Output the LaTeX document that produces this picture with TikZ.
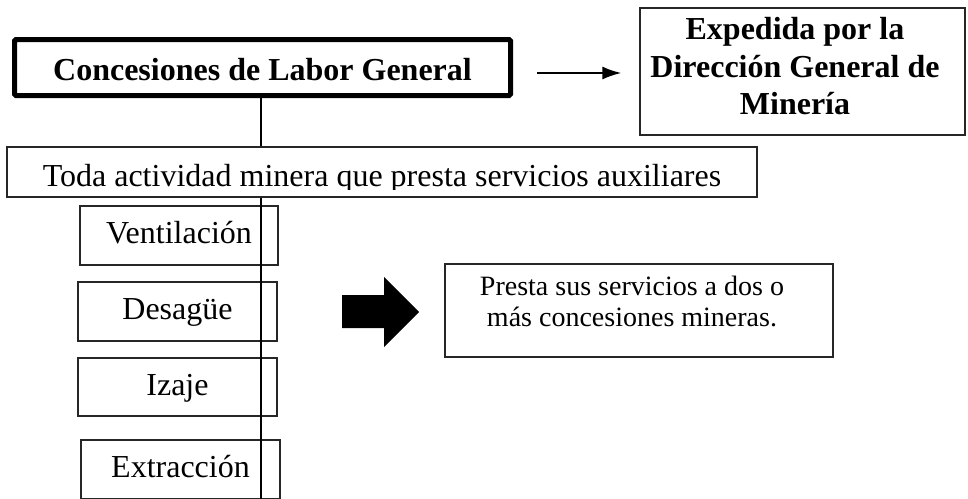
\documentclass[tikz,border=0pt]{standalone}
\usepackage{fontspec}
\setmainfont{Liberation Serif}
\usetikzlibrary{arrows.meta}
\begin{document}
\begin{tikzpicture}[x=1pt,y=-1pt,
  bigfont/.style={font=\fontsize{32}{37.5}\selectfont},
  thinbox/.style={draw=black!85, line width=1.2pt, inner sep=0pt},
  subbox/.style={thinbox, bigfont, text height=22pt, text depth=6pt},
  conn/.style={line width=2pt, black}
]
\useasboundingbox (0,0) rectangle (968,498);

% main box
\node[draw, line width=5pt, rounded corners=1.5pt, inner sep=0pt,
      minimum width=496pt, minimum height=56pt,
      text height=30pt, text depth=5pt,
      font=\fontsize{32}{37.5}\selectfont\bfseries]
      (main) at (262.5,67.5) {Concesiones de Labor General};

% Expedida box
\node[thinbox, minimum width=325pt, minimum height=127pt] (exp) at (802.5,71.5) {};
\node[align=center, inner sep=0pt, font=\fontsize{32}{37.5}\selectfont\bfseries]
      (exptext) at (795,66.5) {Expedida por la\\Dirección General de\\Minería};

\coordinate (ay) at (0,73);
\draw[line width=2pt, -{Latex[length=19pt,width=13pt]}, shorten <=24pt, shorten >=18pt]
  (main.east |- ay) -- (exp.west |- ay);

% sub boxes
\node[subbox, minimum width=198pt, minimum height=59pt] (vent) at (179,235.5) {Ventilación};
\node[subbox, minimum width=199pt, minimum height=59pt] (des) at (177.5,311.5) {Desagüe};
\node[subbox, minimum width=199pt, minimum height=58pt] (iza) at (177.5,387) {Izaje};
\node[subbox, minimum width=199pt, minimum height=59pt] (ext) at (180.5,469.5) {Extracción};

% Toda box
\node[thinbox, fill=white, minimum width=750pt, minimum height=50pt] (toda) at (382,172) {};
\begin{scope}
  \clip (7,147) rectangle (757,189.5);
  \node[anchor=base, inner sep=0pt, bigfont] (todatext) at (382,186)
    {Toda actividad minera que presta servicios auxiliares};
\end{scope}

% vertical connector
\coordinate (vx) at (261,0);
\coordinate (vbot) at (261,500);
\draw[conn] (main.south -| vx) -- (toda.north -| vx);
\draw[conn] (toda.south -| vx) -- (vbot);

% block arrow
\fill[black] (342,295) -- (384,295) -- (384,277) -- (419,312) -- (384,347)
  -- (384,328) -- (342,328) -- cycle;

% Presta box
\node[thinbox, minimum width=388pt, minimum height=93pt] (presta) at (639,310.5) {};
\node[align=center, inner sep=0pt, font=\fontsize{28}{31}\selectfont]
  (prestatext) at (632,301) {Presta sus servicios a dos o\\más concesiones mineras.};
\end{tikzpicture}
\end{document}
